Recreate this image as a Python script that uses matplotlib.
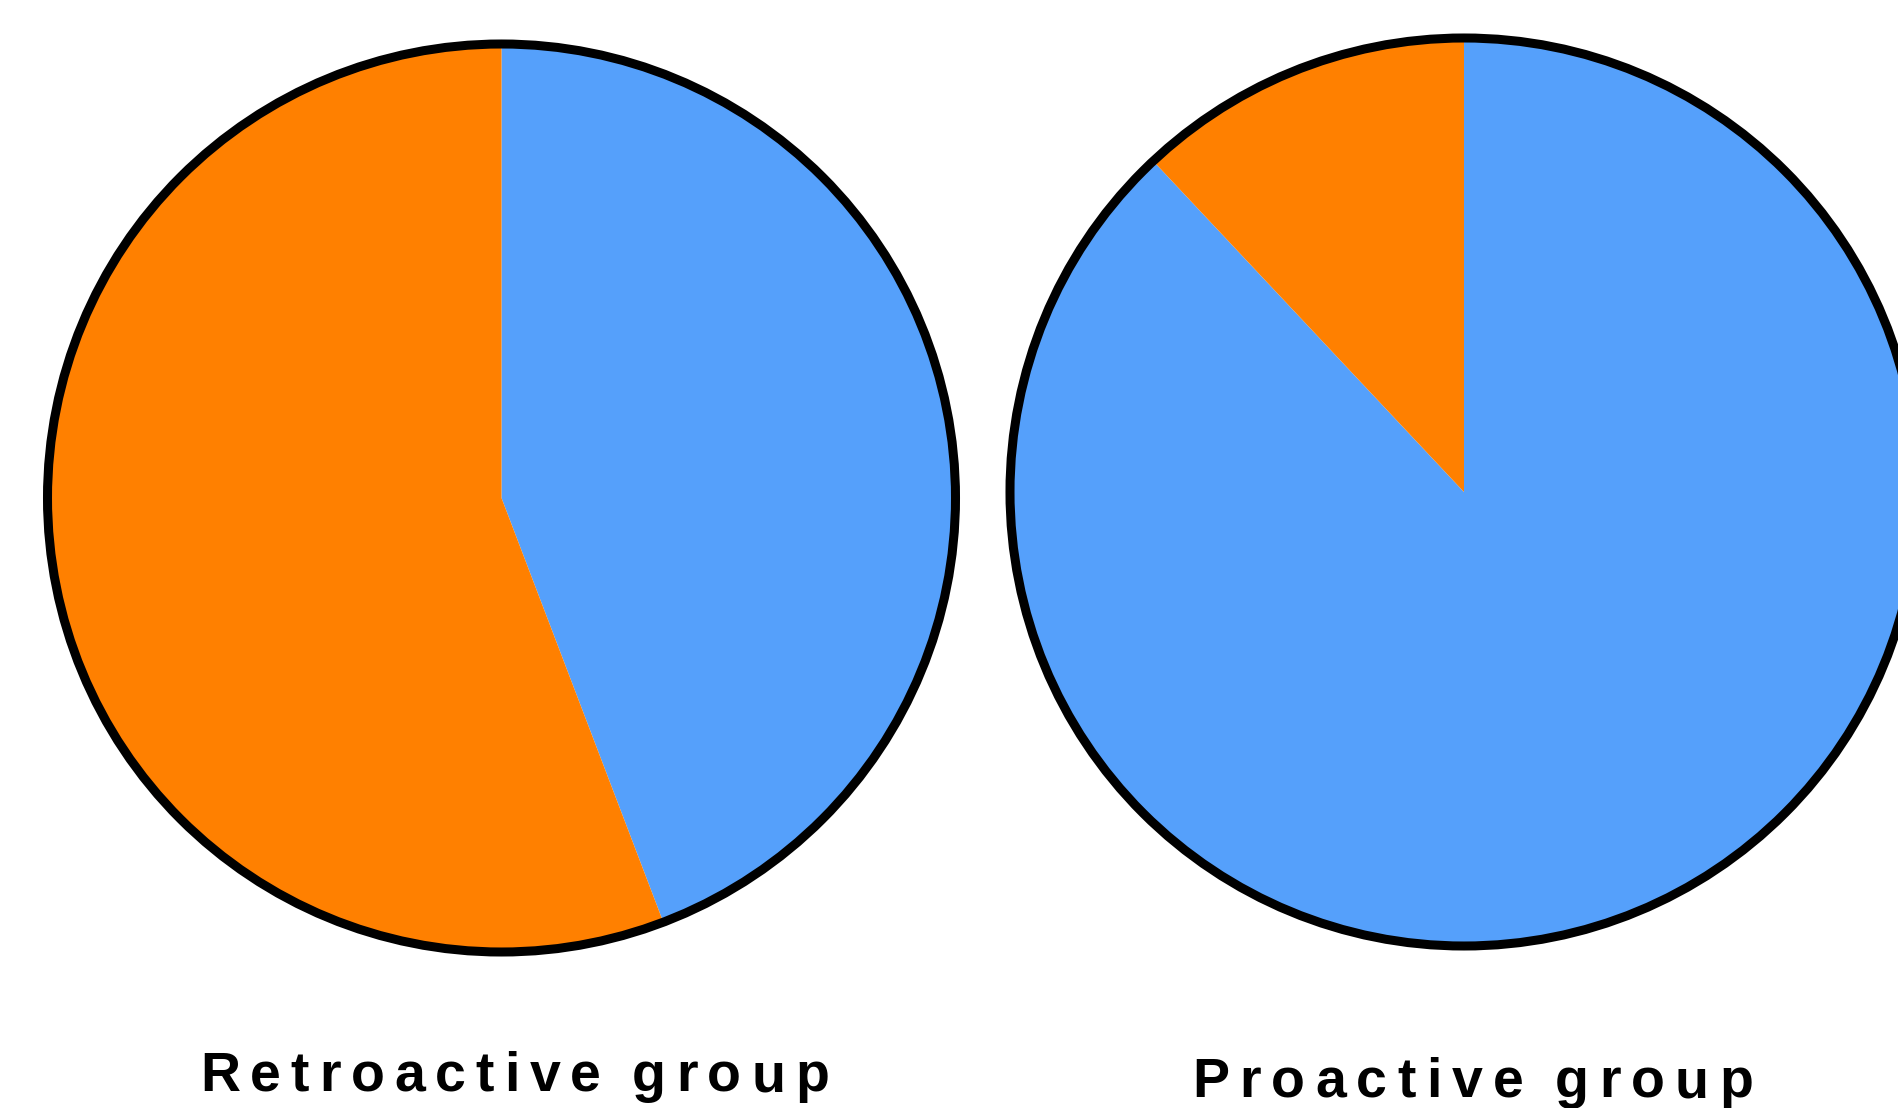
import matplotlib
matplotlib.use("Agg")
import matplotlib.pyplot as plt
from matplotlib.patches import Circle

# shares of each group (blue part first, clockwise from 12 o'clock)
groups = ["Retroactive group", "Proactive group"]
blue_share = [44.2, 88.0]
orange_share = [55.8, 12.0]

BLUE = "#55A0FB"
ORANGE = "#FF8000"

W, H = 1898, 1108
fig = plt.figure(figsize=(W / 100, H / 100), dpi=100)
ax = fig.add_axes([0, 0, 1, 1])

# pie centres and radius in pixel units (y measured from the bottom)
centres = [(501.5, H - 498), (1464, H - 492)]
radius = 454

for (cx, cy), b, o in zip(centres, blue_share, orange_share):
    ax.pie([b, o], colors=[BLUE, ORANGE], startangle=90, counterclock=False,
           center=(cx, cy), radius=radius, wedgeprops=dict(linewidth=0))
    ax.add_patch(Circle((cx, cy), radius, fill=False, edgecolor="black", lw=6.5))

ax.set_xlim(0, W)
ax.set_ylim(0, H)
ax.set_aspect("auto")
ax.axis("off")

renderer = fig.canvas.get_renderer()
font = dict(family=["Liberation Sans", "DejaVu Sans"], weight="bold", size=40)


def spaced_label(s, x_left, x_right, y):
    # lay out each letter so the word spans x_left..x_right with even gaps
    texts, widths = [], []
    for ch in s:
        t = fig.text(0, y, ch, transform=None, va="baseline", ha="left", **font)
        if ch == " ":
            w = 0.2 * 40 * 100 / 72
        else:
            w = t.get_window_extent(renderer).width
        texts.append(t)
        widths.append(w)
    gap = (x_right - x_left - sum(widths)) / (len(s) - 1)
    x = x_left
    for t, w in zip(texts, widths):
        t.set_x(x)
        x += w + gap


spaced_label(groups[0], 200, 829, H - 1091)
spaced_label(groups[1], 1192, 1753, H - 1097)

fig.savefig("out.png", dpi=100)
